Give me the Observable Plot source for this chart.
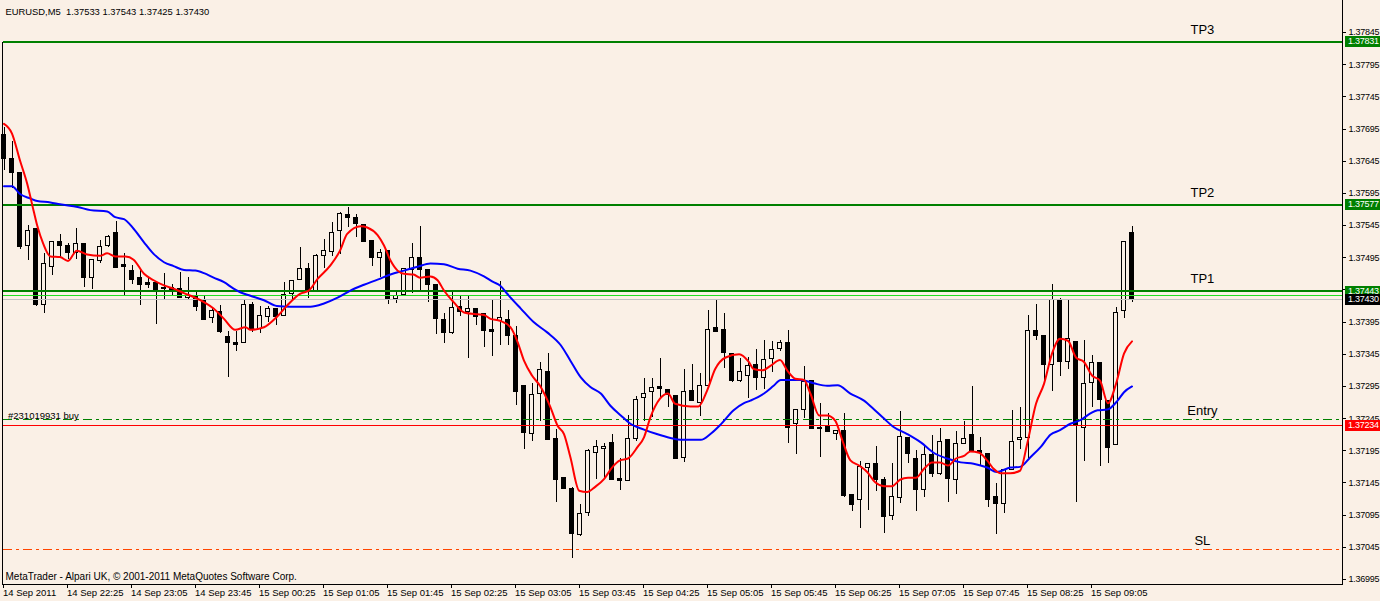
<!DOCTYPE html>
<html><head><meta charset="utf-8">
<script src="https://cdn.jsdelivr.net/npm/d3@7"></script>
<script src="https://cdn.jsdelivr.net/npm/@observablehq/plot@0.6"></script>
<style>
html,body{margin:0;padding:0;background:#FAF0E6;}
#chart svg{display:block;}
</style></head><body><div id="chart"></div>
<script>
// ---- Candles (EURUSD M5), bar 0 = 14 Sep 21:45 ----
const opens = [1.37685,1.37649,1.37627,1.37513,1.37540,1.37422,1.37481,1.37520,1.37514,1.37502,
1.37517,1.37463,1.37490,1.37514,1.37534,1.37483,1.37475,1.37464,1.37455,1.37455,
1.37448,1.37448,1.37447,1.37432,1.37435,1.37429,1.37401,1.37411,1.37372,1.37362,
1.37363,1.37422,1.37385,1.37403,1.37416,1.37405,1.37438,1.37461,1.37478,1.37444,
1.37498,1.37504,1.37537,1.37561,1.37557,1.37546,1.37521,1.37495,1.37506,1.37431,
1.37437,1.37476,1.37495,1.37476,1.37453,1.37399,1.37378,1.37419,1.37411,1.37415,
1.37408,1.37382,1.37396,1.37399,1.37373,1.37295,1.37221,1.37284,1.37318,1.37214,
1.37153,1.37135,1.37064,1.37099,1.37192,1.37198,1.37207,1.37151,1.37148,1.37214,
1.37277,1.37287,1.37294,1.37290,1.37280,1.37184,1.37288,1.37270,1.37296,1.37386,
1.37383,1.37346,1.37304,1.37312,1.37329,1.37308,1.37338,1.37353,1.37363,1.37237,
1.37259,1.37303,1.37230,1.37232,1.37221,1.37225,1.37127,1.37119,1.37168,1.37174,
1.37150,1.37094,1.37122,1.37215,1.37183,1.37134,1.37188,1.37159,1.37211,1.37150,
1.37205,1.37219,1.37194,1.37190,1.37123,1.37113,1.37165,1.37212,1.37215,1.37381,
1.37373,1.37329,1.37427,1.37333,1.37364,1.37231,1.37300,1.37332,1.37273,1.37204,
1.37413,1.37533];
const highs = [1.37698,1.37675,1.37627,1.37545,1.37540,1.37501,1.37520,1.37531,1.37517,1.37540,
1.37517,1.37492,1.37522,1.37530,1.37551,1.37501,1.37483,1.37478,1.37462,1.37455,
1.37470,1.37453,1.37472,1.37464,1.37441,1.37436,1.37418,1.37421,1.37380,1.37380,
1.37430,1.37425,1.37419,1.37419,1.37416,1.37456,1.37459,1.37511,1.37486,1.37500,
1.37523,1.37550,1.37565,1.37573,1.37562,1.37546,1.37521,1.37508,1.37506,1.37441,
1.37478,1.37517,1.37544,1.37476,1.37453,1.37408,1.37441,1.37436,1.37435,1.37415,
1.37408,1.37429,1.37458,1.37413,1.37388,1.37295,1.37299,1.37332,1.37346,1.37228,
1.37153,1.37138,1.37111,1.37197,1.37211,1.37207,1.37221,1.37183,1.37250,1.37279,
1.37307,1.37307,1.37338,1.37290,1.37280,1.37322,1.37329,1.37315,1.37413,1.37430,
1.37409,1.37346,1.37338,1.37340,1.37353,1.37367,1.37365,1.37366,1.37382,1.37259,
1.37326,1.37303,1.37268,1.37253,1.37225,1.37253,1.37127,1.37179,1.37174,1.37202,
1.37154,1.37175,1.37256,1.37215,1.37195,1.37201,1.37219,1.37230,1.37211,1.37225,
1.37241,1.37295,1.37215,1.37190,1.37144,1.37165,1.37258,1.37262,1.37405,1.37422,
1.37373,1.37453,1.37431,1.37430,1.37364,1.37366,1.37343,1.37332,1.37273,1.37418,
1.37520,1.37543];
const lows = [1.37631,1.37602,1.37508,1.37491,1.37420,1.37409,1.37467,1.37496,1.37493,1.37493,
1.37449,1.37446,1.37486,1.37511,1.37479,1.37435,1.37453,1.37421,1.37447,1.37392,
1.37430,1.37436,1.37432,1.37429,1.37412,1.37399,1.37393,1.37378,1.37309,1.37350,
1.37363,1.37379,1.37378,1.37395,1.37390,1.37403,1.37429,1.37459,1.37431,1.37442,
1.37478,1.37497,1.37500,1.37542,1.37526,1.37518,1.37482,1.37465,1.37423,1.37424,
1.37437,1.37439,1.37444,1.37426,1.37376,1.37362,1.37376,1.37403,1.37339,1.37390,
1.37356,1.37342,1.37359,1.37359,1.37265,1.37197,1.37210,1.37241,1.37211,1.37114,
1.37136,1.37027,1.37062,1.37093,1.37150,1.37150,1.37149,1.37133,1.37148,1.37210,
1.37241,1.37247,1.37274,1.37263,1.37183,1.37177,1.37272,1.37249,1.37296,1.37380,
1.37323,1.37301,1.37301,1.37277,1.37289,1.37290,1.37317,1.37350,1.37207,1.37189,
1.37245,1.37228,1.37185,1.37224,1.37211,1.37123,1.37100,1.37075,1.37102,1.37131,
1.37066,1.37087,1.37113,1.37175,1.37100,1.37123,1.37154,1.37157,1.37115,1.37127,
1.37205,1.37194,1.37170,1.37107,1.37065,1.37098,1.37165,1.37197,1.37183,1.37366,
1.37304,1.37287,1.37311,1.37322,1.37114,1.37179,1.37262,1.37170,1.37175,1.37204,
1.37401,1.37425];
const closes = [1.37649,1.37627,1.37511,1.37537,1.37421,1.37486,1.37519,1.37513,1.37502,1.37517,
1.37463,1.37492,1.37512,1.37527,1.37479,1.37481,1.37460,1.37452,1.37453,1.37444,
1.37446,1.37444,1.37432,1.37436,1.37418,1.37399,1.37413,1.37379,1.37362,1.37360,
1.37422,1.37385,1.37405,1.37415,1.37403,1.37437,1.37459,1.37478,1.37444,1.37498,
1.37506,1.37534,1.37563,1.37556,1.37547,1.37519,1.37495,1.37503,1.37431,1.37436,
1.37478,1.37495,1.37476,1.37452,1.37400,1.37378,1.37417,1.37411,1.37415,1.37403,
1.37381,1.37380,1.37401,1.37373,1.37286,1.37222,1.37282,1.37320,1.37211,1.37150,
1.37136,1.37065,1.37097,1.37194,1.37201,1.37201,1.37149,1.37148,1.37214,1.37274,
1.37284,1.37293,1.37291,1.37281,1.37183,1.37286,1.37272,1.37296,1.37383,1.37380,
1.37347,1.37303,1.37317,1.37326,1.37308,1.37336,1.37352,1.37363,1.37231,1.37259,
1.37302,1.37229,1.37229,1.37224,1.37225,1.37124,1.37110,1.37170,1.37174,1.37149,
1.37092,1.37123,1.37216,1.37190,1.37134,1.37189,1.37159,1.37209,1.37151,1.37205,
1.37213,1.37194,1.37192,1.37119,1.37113,1.37165,1.37209,1.37215,1.37381,1.37373,
1.37329,1.37430,1.37333,1.37368,1.37234,1.37299,1.37332,1.37274,1.37199,1.37409,
1.37520,1.37430];

// ---- Moving averages (bar position, price) ----
const redBar = [0,1,2,2.9,3.7,4.15,4.9,5.8,7,8,9.1,10.4,12,12.9,13.9,15.2,16.2,17.5,18.7,20,21.2,22.5,23.7,25,26.2,27.5,28.9,30.2,30.8,32.5,34.1,35.4,37,38.1,39.2,40.8,42,42.9,44.6,45.4,46.7,47.5,48.3,49.2,50,51.2,52,53.3,54.2,55,56.2,57.5,59.2,60,60.8,62,63.3,64.2,65,66,67,68.3,69.2,70,70.8,71.9,72.9,73.9,75,76,77,78,79.2,80,80.8,82,83,83.9,85.8,86.8,87.9,88.9,90.2,91.9,93.1,93.7,94.8,95.8,97,97.9,98.9,100,100.8,101.9,102.9,103.9,104.8,105.8,106.9,107.9,108.9,110,111,112,113,114,115,116,117,118,119,120,120.8,121.9,122.9,123.7,124.6,125.8,127,127.9,129,130,131,132,133,134,135,136,137,138,139,140,141];
const redPrice = [1.37703,1.37688,1.37646,1.37610,1.37568,1.37545,1.37517,1.37497,1.37496,1.37490,1.37506,1.37500,1.37498,1.37502,1.37497,1.37497,1.37492,1.37470,1.37460,1.37452,1.37447,1.37440,1.37434,1.37426,1.37416,1.37400,1.37383,1.37387,1.37383,1.37387,1.37403,1.37421,1.37439,1.37444,1.37462,1.37483,1.37506,1.37532,1.37544,1.37542,1.37530,1.37514,1.37491,1.37475,1.37470,1.37469,1.37464,1.37466,1.37460,1.37444,1.37426,1.37410,1.37407,1.37406,1.37400,1.37397,1.37387,1.37364,1.37335,1.37312,1.37296,1.37263,1.37234,1.37221,1.37185,1.37133,1.37131,1.37139,1.37151,1.37169,1.37180,1.37183,1.37201,1.37216,1.37247,1.37276,1.37284,1.37268,1.37264,1.37264,1.37289,1.37322,1.37340,1.37345,1.37333,1.37322,1.37320,1.37327,1.37336,1.37320,1.37307,1.37305,1.37284,1.37250,1.37250,1.37242,1.37211,1.37180,1.37172,1.37162,1.37146,1.37140,1.37140,1.37150,1.37153,1.37153,1.37167,1.37177,1.37177,1.37172,1.37183,1.37187,1.37194,1.37192,1.37180,1.37167,1.37160,1.37160,1.37164,1.37206,1.37268,1.37299,1.37346,1.37369,1.37366,1.37340,1.37333,1.37312,1.37304,1.37269,1.37299,1.37346,1.37365];
const blueBar = [0,1,2,3.3,4.15,5.8,7,9.2,10.8,12.9,13.9,15,16.2,17.5,18.7,20,21.2,22.5,23.9,25,26.2,27.5,28.7,29.6,30.8,32.5,34.1,35.8,38.3,40,41.7,43.3,45,46.7,48.3,50,51.7,53.3,55,56.7,58.3,60,61.2,62,62.9,64.6,66.2,67.9,69.6,70.8,72.1,73.3,74.6,75.8,77.1,78.3,80,81.6,83.3,84.6,87.1,88.3,89.6,91.2,92.5,93.3,95,96.2,97.1,99.6,101.2,102.9,104.2,105.8,107.5,108.7,110,111.2,112.9,114.6,116.2,117.9,119.6,121.2,122.9,124.1,125.8,127,128.3,129.6,130.8,132,133.3,134.6,135.8,136.7,137.9,139.2,140,141];
const bluePrice = [1.37606,1.37606,1.37594,1.37587,1.37583,1.37581,1.37578,1.37574,1.37569,1.37567,1.37558,1.37555,1.37540,1.37519,1.37501,1.37488,1.37482,1.37476,1.37475,1.37471,1.37464,1.37457,1.37447,1.37441,1.37436,1.37429,1.37420,1.37419,1.37419,1.37424,1.37433,1.37444,1.37453,1.37461,1.37469,1.37475,1.37481,1.37486,1.37485,1.37478,1.37475,1.37466,1.37457,1.37452,1.37439,1.37416,1.37395,1.37379,1.37359,1.37335,1.37309,1.37294,1.37284,1.37265,1.37250,1.37237,1.37228,1.37221,1.37215,1.37212,1.37212,1.37221,1.37236,1.37258,1.37269,1.37273,1.37284,1.37296,1.37305,1.37305,1.37300,1.37296,1.37297,1.37284,1.37273,1.37260,1.37245,1.37232,1.37221,1.37208,1.37192,1.37183,1.37177,1.37175,1.37169,1.37162,1.37169,1.37170,1.37185,1.37201,1.37220,1.37227,1.37237,1.37243,1.37253,1.37258,1.37259,1.37273,1.37286,1.37295];

// ---- Levels ----
const tpLevels = [1.37831, 1.37577, 1.37443];
const tpNames = ["TP3", "TP2", "TP1"];
const askLevel = 1.37437;
const bidLevel = 1.37430;
const entryLevel = 1.37243;
const redLevel = 1.37234;
const slLevel = 1.37041;
const orderLabel = "#231019931 buy";
const boxPrices = [1.37831, 1.37577, 1.37443, 1.37430, 1.37234];
const boxColors = ["#008000", "#008000", "#008000", "#000000", "#FF0000"];

// ---- Axes ----
const xTickBars = [0,8,16,24,32,40,48,56,64,72,80,88,96,104,112,120,128,136];
const xTickLabels = ["14 Sep 2011","14 Sep 22:25","14 Sep 23:05","14 Sep 23:45","15 Sep 00:25","15 Sep 01:05","15 Sep 01:45","15 Sep 02:25","15 Sep 03:05","15 Sep 03:45","15 Sep 04:25","15 Sep 05:05","15 Sep 05:45","15 Sep 06:25","15 Sep 07:05","15 Sep 07:45","15 Sep 08:25","15 Sep 09:05"];
const yTicks = [1.36995,1.37045,1.37095,1.37145,1.37195,1.37245,1.37295,1.37345,1.37395,1.37445,1.37495,1.37545,1.37595,1.37645,1.37695,1.37745,1.37795,1.37845];
const headerText = "EURUSD,M5\u00a0\u00a01.37533 1.37543 1.37425 1.37430";
const footerText = "MetaTrader - Alpari UK, \u00a9 2001-2011 MetaQuotes Software Corp.";

const BG = "#FAF0E6";
const bars = opens.map((o, i) => ({i, o, h: highs[i], l: lows[i], c: closes[i], up: closes[i] > o}));
const bodies = bars.filter(d => Math.abs(d.c - d.o) > 1e-7);
const dojis = bars.filter(d => Math.abs(d.c - d.o) <= 1e-7);
const red = redBar.map((b, k) => ({b, p: redPrice[k]}));
const blue = blueBar.map((b, k) => ({b, p: bluePrice[k]}));
const tickMap = new Map(xTickBars.map((b, k) => [b - 0.5, xTickLabels[k]]));
const tpData = tpLevels.map((p, k) => ({p, name: tpNames[k]}));
const otherLabels = [{p: entryLevel, name: "Entry"}, {p: slLevel, name: "SL"}];

function priceBoxes(...args) {
  const scales = args.find(a => a && !Array.isArray(a) && typeof a.y === "function");
  const dims = args.find(a => a && typeof a.width === "number" && "marginRight" in a);
  const g = d3.create("svg:g");
  const x0 = dims.width - dims.marginRight + 3;
  boxPrices.forEach((p, k) => {
    const y = Math.round(scales.y(p));
    g.append("rect").attr("x", x0).attr("y", y - 5).attr("width", dims.width - x0).attr("height", 11).attr("fill", boxColors[k]);
    g.append("text").attr("x", x0 + 3).attr("y", y).attr("dy", "0.36em").attr("fill", "white")
      .attr("text-anchor", "start").attr("font-size", "9px").attr("letter-spacing", "-0.25px").text(p.toFixed(5));
  });
  return g.node();
}

const chart = Plot.plot({
  width: 1380,
  height: 601,
  marginLeft: 3,
  marginRight: 38,
  marginTop: 32,
  marginBottom: 17,
  style: {background: BG, fontFamily: "'Liberation Sans', Arial, sans-serif", fontSize: "10px", color: "black", overflow: "visible"},
  x: {type: "linear", domain: [0, 141], range: [3.5, 1131.5]},
  y: {type: "linear", domain: [1.36995, 1.37845], range: [579, 32]},
  marks: [
    Plot.ruleX(bars, {x: "i", y1: "l", y2: "h", stroke: "black", strokeWidth: 1, shapeRendering: "crispEdges"}),
    Plot.rect(bodies, {x1: d => d.i - 0.25, x2: d => d.i + 0.25, y1: "o", y2: "c", fill: d => d.up ? BG : "black", stroke: "black", strokeWidth: 1, shapeRendering: "crispEdges"}),
    Plot.ruleY(dojis, {y: "c", x1: d => d.i - 0.25, x2: d => d.i + 0.3125, stroke: "black", strokeWidth: 1, shapeRendering: "crispEdges"}),
    Plot.ruleY([bidLevel], {stroke: "#C0C0C0", strokeWidth: 1, shapeRendering: "crispEdges"}),
    Plot.ruleY([askLevel], {stroke: "#22DD22", strokeWidth: 1, shapeRendering: "crispEdges"}),
    Plot.ruleY(tpLevels, {stroke: "#008000", strokeWidth: 2, shapeRendering: "crispEdges"}),
    Plot.ruleY([entryLevel], {stroke: "#008000", strokeWidth: 1, strokeDasharray: "9,4,3,4", shapeRendering: "crispEdges"}),
    Plot.ruleY([redLevel], {stroke: "#FF0000", strokeWidth: 1, shapeRendering: "crispEdges"}),
    Plot.ruleY([slLevel], {stroke: "#FF4500", strokeWidth: 1, strokeDasharray: "9,4,3,4", shapeRendering: "crispEdges"}),
    Plot.line(blue, {x: "b", y: "p", stroke: "#0000FF", strokeWidth: 2, curve: "monotone-x"}),
    Plot.line(red, {x: "b", y: "p", stroke: "#FF0000", strokeWidth: 2, curve: "monotone-x"}),
    Plot.text(tpData, {x: 149.8, y: "p", text: "name", textAnchor: "middle", lineAnchor: "bottom", dy: -8, fontSize: 13, fill: "black"}),
    Plot.text(otherLabels, {x: 149.8, y: "p", text: "name", textAnchor: "middle", lineAnchor: "bottom", dy: -5, fontSize: 13, fill: "black"}),
    Plot.text([orderLabel], {x: 0.5, y: entryLevel, text: d => d, textAnchor: "start", lineAnchor: "bottom", dy: -1, fontSize: 9.5, fill: "black"}),
    Plot.text([headerText], {frameAnchor: "top-left", text: d => d, dx: 2, dy: -20.5, textAnchor: "start", lineAnchor: "middle", fontSize: 9.4, fill: "black"}),
    Plot.text([footerText], {frameAnchor: "bottom-left", text: d => d, dx: 2, dy: -8, textAnchor: "start", lineAnchor: "middle", fill: "black"}),
    Plot.axisX({ticks: xTickBars.map(b => b - 0.5), tickFormat: d => tickMap.get(d), tickSize: 4, tickPadding: 1, textAnchor: "start", dx: 3, fontSize: 9.5, label: null, shapeRendering: "crispEdges"}),
    Plot.axisY({anchor: "right", ticks: yTicks, tickFormat: d3.format(".5f"), tickSize: 3, tickPadding: 3, fontSize: 9, label: null, shapeRendering: "crispEdges"}),
    priceBoxes
  ]
});

const svg = d3.select(chart);
svg.selectAll("g[aria-label='y-axis tick label'] text").attr("letter-spacing", "-0.25px");
const frameLines = [[2.5, 42, 2.5, 584.5], [1342.5, 0, 1342.5, 584.5], [2, 584.5, 1343, 584.5]];
frameLines.forEach(([x1, y1, x2, y2]) => svg.append("line").attr("x1", x1).attr("y1", y1).attr("x2", x2).attr("y2", y2).attr("stroke", "black").attr("stroke-width", 1));
document.getElementById("chart").appendChild(chart);
</script></body></html>
